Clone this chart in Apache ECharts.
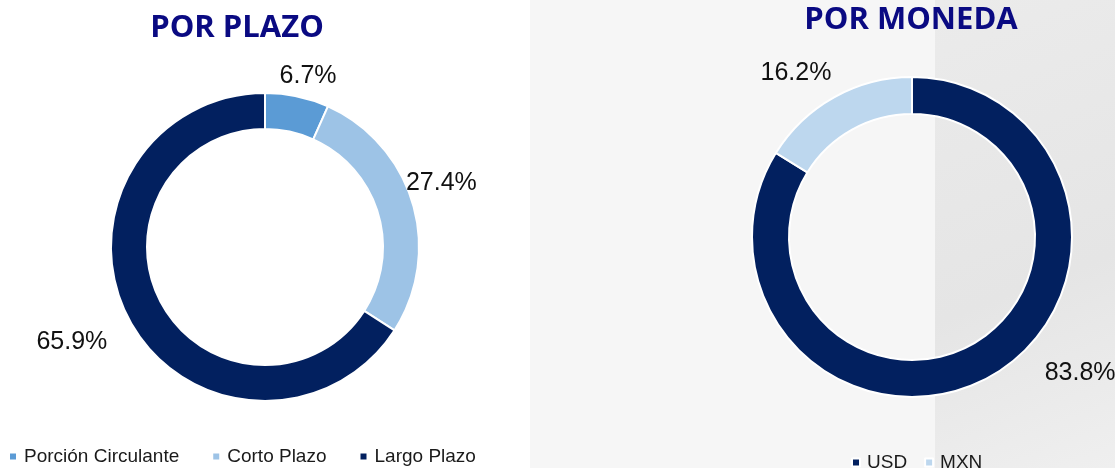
<!DOCTYPE html>
<html>
<head>
<meta charset="utf-8">
<script src="https://cdn.jsdelivr.net/npm/echarts@6/dist/echarts.min.js"></script>
<style>
html,body{margin:0;padding:0;background:#fff;}
#main{width:1115px;height:468px;}
</style>
</head>
<body>
<div id="main"></div>
<script>
// datos
var plazoNames = ['Porción Circulante', 'Corto Plazo', 'Largo Plazo'];
var plazoValues = [6.7, 27.4, 65.9];
var monedaNames = ['USD', 'MXN'];
var monedaValues = [83.8, 16.2];

var plazoColors = ['#5B9BD5', '#9DC3E6', '#02205F'];
var monedaColors = ['#02205F', '#BDD7EE'];

var NAVY_TITLE = '#0A0A82';
var LABEL_FONT = "'Liberation Sans', Arial, sans-serif";

// ajustes a mano de las etiquetas (en excel se movieron)
var labelNudge = {
	'Porción Circulante':[6,2],
	'Corto Plazo':[-12,-8],
	'Largo Plazo':[-21,1],
	'USD':[72,-36],
	'MXN':[-20,8]
};

function buildData(names, values, colors){
	var arr = [];
	for(var i=0;i<names.length;i++){
		arr.push({name:names[i], value:values[i], itemStyle:{color:colors[i]}});
	}
	return arr;
}

// coloca la etiqueta fuera del anillo, centrada sobre el angulo medio (estilo excel)
function outsideLayout(names, values, cx, cy, r, gap){
	var total = 0;
	for(var i=0;i<values.length;i++){ total += values[i]; }
	return function(params){
		var before = 0;
		for(var k=0;k<params.dataIndex;k++){ before += values[k]; }
		var mid = (before + values[params.dataIndex]/2)/total*Math.PI*2;
		var dx = Math.sin(mid), dy = -Math.cos(mid);
		var w = params.labelRect.width, h = params.labelRect.height;
		var ext = Math.abs(dx)*w/2 + Math.abs(dy)*h/2;
		var rr = r + gap + ext;
		var n = labelNudge[names[params.dataIndex]] || [0,0];
		return {x: cx + dx*rr + n[0], y: cy + dy*rr + n[1], align:'center', verticalAlign:'middle'};
	};
}

var chart = echarts.init(document.getElementById('main'));

var labelStyle = {
	show:true,
	position:'inside',
	formatter:'{c}%',
	fontFamily:LABEL_FONT,
	fontSize:25,
	color:'#111'
};

var option = {
	backgroundColor:'#ffffff',
	animation:false,
	graphic:[
		{type:'rect', z:-10, shape:{x:530,y:0,width:405,height:468}, style:{fill:'#f6f6f6'}},
		{type:'rect', z:-10, shape:{x:935,y:0,width:180,height:468},
			style:{fill:new echarts.graphic.LinearGradient(0,0,1,1,[
				{offset:0,color:'#ebebeb'},{offset:0.6,color:'#e5e5e5'},{offset:1,color:'#efefef'}])}}
	],
	title:[
		{
			text:'POR PLAZO', left:237, top:13, padding:0, textAlign:'center',
			textStyle:{fontFamily:"'Open Sans', sans-serif", fontWeight:'bold', fontSize:31, color:NAVY_TITLE}
		},
		{
			text:'POR MONEDA', left:911, top:5, padding:0, textAlign:'center',
			textStyle:{fontFamily:"'Open Sans', sans-serif", fontWeight:'bold', fontSize:31, color:NAVY_TITLE}
		}
	],
	legend:[
		{
			data:plazoNames, left:8, top:447, padding:0,
			icon:'rect', itemWidth:8, itemHeight:8, itemGap:32,
			textStyle:{fontFamily:"'Liberation Sans', Arial, sans-serif", fontSize:19, color:'#1a1a1a', padding:[0,0,0,2]}
		},
		{
			data:monedaNames, left:851, top:453, padding:0,
			icon:'rect', itemWidth:8, itemHeight:8, itemGap:17,
			textStyle:{fontFamily:"'Liberation Sans', Arial, sans-serif", fontSize:19, color:'#1a1a1a', padding:[0,0,0,2]}
		}
	],
	series:[
		{
			name:'Por plazo',
			type:'pie',
			center:[265,247],
			radius:[118,154],
			startAngle:90,
			clockwise:true,
			silent:true,
			itemStyle:{borderColor:'#ffffff', borderWidth:2},
			label:labelStyle,
			labelLine:{show:false},
			labelLayout:outsideLayout(plazoNames, plazoValues, 265, 247, 154, 5),
			data:buildData(plazoNames, plazoValues, plazoColors)
		},
		{
			name:'Por moneda',
			type:'pie',
			center:[912,237],
			radius:[123,160],
			startAngle:90,
			clockwise:true,
			silent:true,
			itemStyle:{borderColor:'#ffffff', borderWidth:2},
			label:labelStyle,
			labelLine:{show:false},
			labelLayout:outsideLayout(monedaNames, monedaValues, 912, 237, 160, 9),
			data:buildData(monedaNames, monedaValues, monedaColors)
		}
	]
};
chart.setOption(option);
</script>
</body>
</html>
